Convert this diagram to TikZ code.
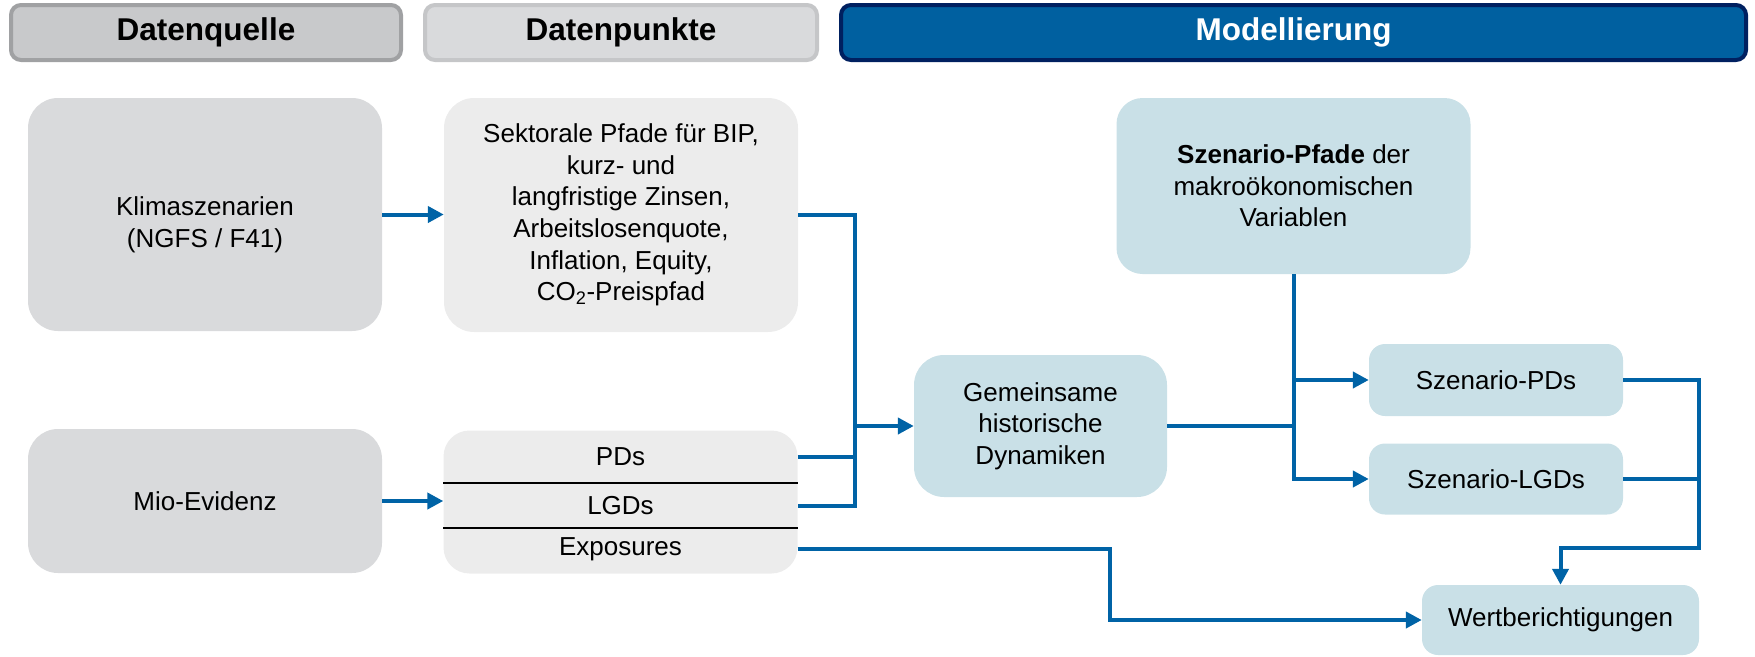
\documentclass[tikz,border=0pt]{standalone}
\usepackage{fontspec}
\setmainfont{Liberation Sans}
\usepackage{tikz}
\usetikzlibrary{arrows.meta}
\definecolor{hqgray}{RGB}{200,201,203}
\definecolor{hqline}{RGB}{160,161,163}
\definecolor{hpgray}{RGB}{217,218,220}
\definecolor{hpline}{RGB}{197,198,200}
\definecolor{hmblue}{RGB}{0,96,160}
\definecolor{hmline}{RGB}{0,32,96}
\definecolor{srcgray}{RGB}{217,218,220}
\definecolor{ptsgray}{RGB}{236,236,236}
\definecolor{mdlblue}{RGB}{201,224,231}
\definecolor{flowblue}{RGB}{0,99,166}
\tikzstyle{head} = [rounded corners=10pt, line width=4pt, minimum height=55pt, inner sep=0pt, font=\fontsize{31.5}{38}\selectfont\bfseries]
\tikzstyle{box} = [rounded corners=30pt, inner sep=0pt, align=center, font=\fontsize{26}{31.6}\selectfont]
\tikzstyle{small box} = [box, rounded corners=16pt, fill=mdlblue]
\tikzstyle{row} = [inner sep=0pt, minimum width=354pt, minimum height=40pt, font=\fontsize{26}{31.6}\selectfont]
\tikzstyle{line} = [draw=flowblue, line width=4pt]
\tikzstyle{flow} = [line, -{Triangle[length=16pt,width=16pt]}]

\begin{document}
\begin{tikzpicture}[x=1pt,y=-1pt]

    \useasboundingbox (0,0) rectangle (1755,656);

    % column heads
    \node[head, fill=hqgray, draw=hqline, minimum width=390pt] at (206,32.5) (hq) {Datenquelle};
    \node[head, fill=hpgray, draw=hpline, minimum width=392pt] at (621,32.5) (hp) {Datenpunkte};
    \node[head, fill=hmblue, draw=hmline, text=white, minimum width=905pt] at (1293.5,32.5) (hm) {Modellierung};

    %=====================

    \node[box, fill=srcgray, minimum width=354pt, minimum height=233pt] at (205,214.5) (klima) {};
    \node[box] at (205,225) (klimatext) {Klimaszenarien\\(NGFS / F41)};
    \node[box, fill=ptsgray, minimum width=354pt, minimum height=234pt] at (621,215) (sektor)
      {Sektorale Pfade f\"ur BIP,\\kurz- und\\langfristige Zinsen,\\Arbeitslosenquote,\\Inflation, Equity,\\CO\textsubscript{2}-Preispfad};

    \node[box, fill=srcgray, minimum width=354pt, minimum height=144pt] at (205,501) (mio) {Mio-Evidenz};
    \node[box, fill=ptsgray, rounded corners=26pt, minimum width=354pt, minimum height=143pt] at (620.5,502) (pts) {};
    \node[row] at (620.5,457) (pd) {PDs};
    \node[row] at (620.5,506) (lgd) {LGDs};
    \node[row] at (620.5,549) (exp) {Exposures};
    \draw[line width=2.5pt] (pts.west |- 0,483) -- (pts.east |- 0,483);
    \draw[line width=2.5pt] (pts.west |- 0,528) -- (pts.east |- 0,528);

    %=====================

    \node[box, fill=mdlblue, minimum width=253pt, minimum height=142pt] at (1040.5,426) (gem) {Gemeinsame\\historische\\Dynamiken};
    \node[box, fill=mdlblue, rounded corners=26pt, minimum width=354pt, minimum height=176pt] at (1293.5,186) (pfade)
      {\textbf{Szenario-Pfade} der\\makro\"okonomischen\\Variablen};
    \node[small box, minimum width=254pt, minimum height=72pt] at (1496,380) (szpd) {Szenario-PDs};
    \node[small box, minimum width=254pt, minimum height=71pt] at (1496,479) (szlgd) {Szenario-LGDs};
    \node[small box, minimum width=277pt, minimum height=70pt] at (1560.5,620) (wert) {Wertberichtigungen};

    %=====================

    \coordinate (j1) at (855,426);
    \coordinate (j2) at (gem.east -| pfade.south);
    \coordinate (j3) at (1699,548);
    \coordinate (j4) at (1110,620);

    \path
    (klima.east) edge [flow] (klima.east -| sektor.west)
    (mio.east) edge [flow] (mio.east -| pts.west);

    \draw[line] (sektor.east) -| (j1 |- lgd.east) -- (lgd.east);
    \draw[line] (pd.east) -- (pd.east -| j1);
    \draw[flow] (j1) -- (gem.west);
    \draw[flow] (exp.east) -| (j4) -- (wert.west);

    \draw[line] (gem.east) -- (j2);
    \draw[flow] (pfade.south) |- (szlgd.west);
    \draw[flow] (pfade.south |- szpd.west) -- (szpd.west);

    \draw[line] (szlgd.east) -- (szlgd.east -| j3);
    \draw[flow] (szpd.east) -| (j3) -| (wert.north);

\end{tikzpicture}
\end{document}
